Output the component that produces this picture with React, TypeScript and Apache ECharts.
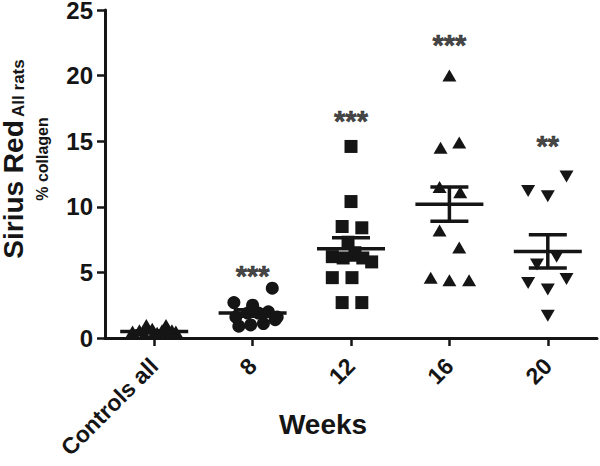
import React, { useEffect, useRef } from 'react';
import * as echarts from 'echarts';

const categories = ['Controls all', '8', '12', '16', '20'];

// individual animal values (% collagen) and horizontal scatter offsets (category units)
const controlsValues = [0.5, 0.6, 1.0, 0.7, 0.4, 1.0, 0.6, 0.5, 0.3, 0.6, 0.4, 0.5];
const controlsOffsets = [-0.22, -0.15, -0.08, -0.02, 0.03, 0.12, 0.18, 0.22, -0.1, 0.08, 0.0, 0.15];
const week8Values = [3.8, 2.7, 2.5, 1.6, 1.9, 1.9, 2.0, 1.6, 0.9, 1.0, 1.1, 1.4];
const week8Offsets = [0.2, -0.19, 0.0, -0.17, -0.05, 0.06, 0.16, 0.25, -0.14, -0.02, 0.11, 0.23];
const week12Values = [14.6, 10.4, 8.5, 8.4, 7.3, 6.2, 6.1, 6.5, 6.1, 5.8, 4.6, 4.6, 2.7, 2.7];
const week12Offsets = [0.0, 0.0, -0.09, 0.11, -0.03, -0.19, -0.08, 0.04, 0.12, 0.21, -0.19, 0.01, -0.09, 0.11];
const week16Values = [20.0, 14.5, 14.9, 11.5, 11.1, 8.2, 6.9, 4.6, 4.4, 4.4];
const week16Offsets = [0.0, -0.09, 0.1, -0.1, 0.11, -0.1, 0.1, -0.19, 0.0, 0.2];
const week20Values = [12.3, 11.2, 10.8, 6.2, 5.6, 4.2, 3.7, 4.5, 1.7];
const week20Offsets = [0.19, -0.2, 0.0, 0.09, -0.11, -0.2, 0.0, 0.19, 0.0];

// mean and SEM
const groupMeans = [0.5, 1.9, 6.8, 10.2, 6.6];
const groupSems = [0.05, 0.25, 0.85, 1.3, 1.27];

// significance annotations
const starLabels = ['', '***', '***', '***', '**'];
const starLevels: (number | null)[] = [null, 4.7, 16.55, 22.3, 14.6];

const yMin = 0;
const yMax = 25;
const yInterval = 5;

const FONT = 'Liberation Sans, Arial, Helvetica, sans-serif';
const INK = '#151515';

export default function App() {
  const ref = useRef<HTMLDivElement>(null);

  useEffect(() => {
    if (!ref.current) return;
    const chart = echarts.init(ref.current, undefined, { renderer: 'svg' });

    const groups = [
      { values: controlsValues, offsets: controlsOffsets, symbol: 'triangle', rotate: 0, size: [14, 12] },
      { values: week8Values, offsets: week8Offsets, symbol: 'circle', rotate: 0, size: 13 },
      { values: week12Values, offsets: week12Offsets, symbol: 'rect', rotate: 0, size: 13 },
      { values: week16Values, offsets: week16Offsets, symbol: 'triangle', rotate: 0, size: [14, 12] },
      { values: week20Values, offsets: week20Offsets, symbol: 'triangle', rotate: 180, size: [14, 12] },
    ];

    const scatterSeries = groups.map((g, gi) => ({
      type: 'scatter',
      name: categories[gi],
      xAxisIndex: 1,
      yAxisIndex: 0,
      symbol: g.symbol,
      symbolRotate: g.rotate,
      symbolSize: g.size,
      itemStyle: { color: INK, opacity: 1 },
      z: 2,
      data: g.values.map((v, i) => [gi + g.offsets[i], v]),
    }));

    const starData = categories
      .map((c, i) => (starLevels[i] == null ? null : { value: [i, starLevels[i]], name: starLabels[i] }))
      .filter(Boolean);

    const option: any = {
      animation: false,
      backgroundColor: '#ffffff',
      grid: { left: 105, right: 3, top: 10, bottom: 128, containLabel: false, outerBoundsMode: 'none' },
      xAxis: [
        {
          type: 'category',
          data: categories,
          boundaryGap: true,
          axisLine: { show: true, onZero: false, lineStyle: { color: INK, width: 3 } },
          axisTick: { show: true, alignWithLabel: true, length: 8, lineStyle: { color: INK, width: 2.5 } },
          axisLabel: {
            rotate: 45,
            margin: 24,
            fontFamily: FONT,
            fontWeight: 'bold',
            fontSize: 23,
            color: INK,
          },
          splitLine: { show: false },
        },
        {
          type: 'value',
          min: -0.5,
          max: 4.5,
          show: false,
          axisLine: { onZero: false },
          splitLine: { show: false },
        },
      ],
      yAxis: {
        type: 'value',
        min: yMin,
        max: yMax,
        interval: yInterval,
        name: '{a|Sirius Red} {b|All rats}\n{c|% collagen}',
        nameLocation: 'middle',
        nameRotate: 90,
        nameGap: 48,
        nameTextStyle: {
          align: 'center',
          padding: [0, 0, 0, 30],
          rich: {
            a: { fontFamily: FONT, fontWeight: 'bold', fontSize: 28, color: INK, lineHeight: 28 },
            b: { fontFamily: FONT, fontWeight: 'bold', fontSize: 17, color: INK, lineHeight: 28, verticalAlign: 'bottom' },
            c: { fontFamily: FONT, fontWeight: 'bold', fontSize: 16, color: INK, lineHeight: 30 },
          },
        },
        axisLine: { show: true, onZero: false, lineStyle: { color: INK, width: 3 } },
        axisTick: { show: true, length: 8, lineStyle: { color: INK, width: 2.5 } },
        axisLabel: {
          margin: 12,
          fontFamily: FONT,
          fontWeight: 'bold',
          fontSize: 24,
          color: INK,
        },
        splitLine: { show: false },
      },
      series: [
        ...scatterSeries,
        {
          type: 'custom',
          xAxisIndex: 0,
          yAxisIndex: 0,
          z: 5,
          data: categories.map((c, i) => [i, groupMeans[i], groupSems[i]]),
          encode: { x: 0, y: 1 },
          renderItem: (params: any, api: any) => {
            const i = api.value(0);
            const m = api.value(1);
            const s = api.value(2);
            const c = api.coord([i, m]);
            const hi = api.coord([i, m + s]);
            const lo = api.coord([i, m - s]);
            const st = { stroke: INK, lineWidth: 3.5 };
            return {
              type: 'group',
              children: [
                { type: 'line', shape: { x1: c[0] - 34, y1: c[1], x2: c[0] + 34, y2: c[1] }, style: st },
                { type: 'line', shape: { x1: c[0], y1: hi[1], x2: c[0], y2: lo[1] }, style: st },
                { type: 'line', shape: { x1: c[0] - 19, y1: hi[1], x2: c[0] + 19, y2: hi[1] }, style: st },
                { type: 'line', shape: { x1: c[0] - 19, y1: lo[1], x2: c[0] + 19, y2: lo[1] }, style: st },
              ],
            };
          },
        },
        {
          type: 'scatter',
          xAxisIndex: 0,
          yAxisIndex: 0,
          symbolSize: 1,
          itemStyle: { color: 'rgba(0,0,0,0)' },
          z: 6,
          label: {
            show: true,
            position: 'inside',
            formatter: '{b}',
            fontFamily: FONT,
            fontWeight: 'bold',
            fontSize: 29,
            color: INK,
            textBorderColor: INK,
            textBorderWidth: 0.6,
          },
          data: starData,
        },
      ],
      graphic: [
        {
          type: 'text',
          x: 323,
          y: 424,
          style: {
            text: 'Weeks',
            fontFamily: FONT,
            fontWeight: 'bold',
            fontSize: 28,
            fill: INK,
            align: 'center',
            verticalAlign: 'middle',
          },
        },
      ],
    };

    chart.setOption(option);
    return () => chart.dispose();
  }, []);

  return (
    <div
      ref={ref}
      style={{ position: 'fixed', left: 0, top: 0, width: 600, height: 466, background: '#fff' }}
    />
  );
}
